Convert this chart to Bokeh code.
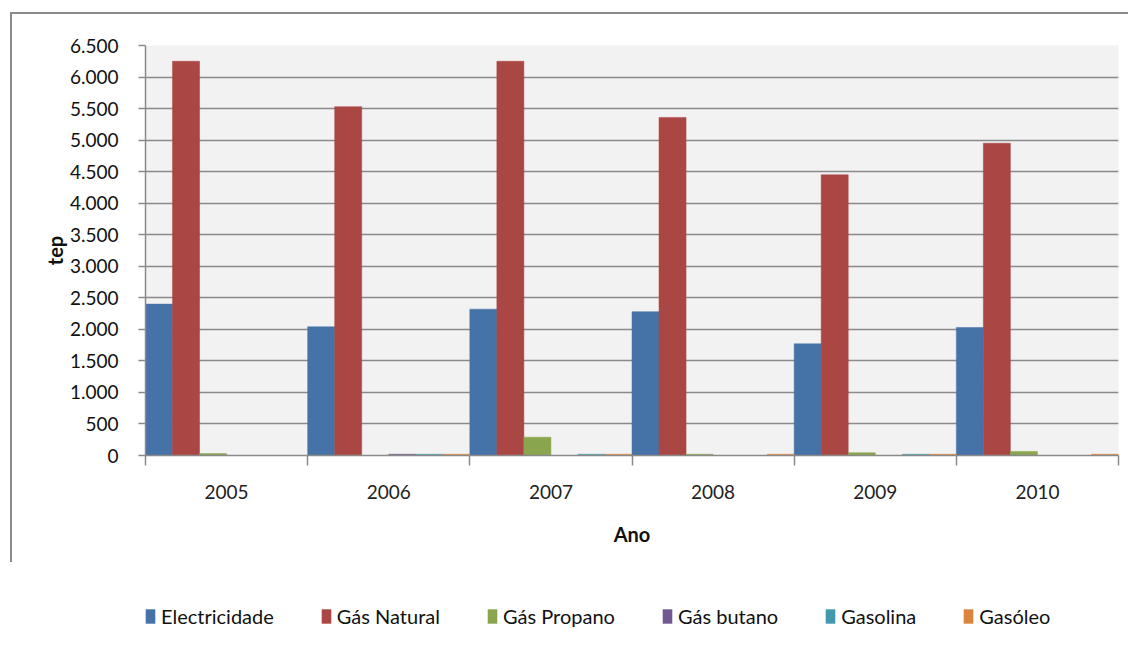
from bokeh.plotting import figure
from bokeh.layouts import column
from bokeh.models import ColumnDataSource, FixedTicker, Legend, LegendItem
from bokeh.transform import dodge
from bokeh.embed import file_html
from bokeh.resources import INLINE

years = [2005, 2006, 2007, 2008, 2009, 2010]
series = ["Electricidade", "Gás Natural", "Gás Propano", "Gás butano", "Gasolina", "Gasóleo"]
electricidade = [2400, 2040, 2320, 2280, 1770, 2030]
gas_natural = [6250, 5530, 6250, 5360, 4450, 4950]
gas_propano = [30, 0, 290, 20, 45, 65]
gas_butano = [0, 20, 0, 0, 0, 0]
gasolina = [0, 20, 20, 0, 20, 0]
gasoleo = [0, 20, 20, 20, 20, 20]
y_ticks = [0, 500, 1000, 1500, 2000, 2500, 3000, 3500, 4000, 4500, 5000, 5500, 6000, 6500]
y_tick_labels = ["0", "500", "1.000", "1.500", "2.000", "2.500", "3.000", "3.500",
                 "4.000", "4.500", "5.000", "5.500", "6.000", "6.500"]
colors = ["#4572A7", "#AA4643", "#89A54E", "#71588F", "#4198AF", "#DB843D"]

FONT = "Lato"
GRID = "#8a8a8a"

values = [electricidade, gas_natural, gas_propano, gas_butano, gasolina, gasoleo]
data = {"year": years}
for i, v in enumerate(values):
    data["s%d" % i] = v
source = ColumnDataSource(data)

p = figure(width=1128, height=590, output_backend="svg", toolbar_location=None,
           x_range=(2004.5, 2010.5), y_range=(0, 6500),
           min_border_left=145, min_border_right=10, min_border_top=45, min_border_bottom=135)
p.background_fill_color = "#f2f2f2"
p.border_fill_color = None
p.outline_line_color = None
p.styles = {
    "background-color": "white",
    "background-image": "linear-gradient(#8a8a8a, #8a8a8a), linear-gradient(#8a8a8a, #8a8a8a)",
    "background-size": "1118px 2px, 2px 550px",
    "background-position": "10px 12px, 10px 12px",
    "background-repeat": "no-repeat",
}

n = len(series)
w = 1.0 / n
for i, name in enumerate(series):
    p.vbar(x=dodge("year", (i - (n - 1) / 2) * w, range=p.x_range), top="s%d" % i,
           width=w, source=source, fill_color=colors[i], line_color=colors[i], line_width=0.5)

# x axis
p.xaxis.ticker = FixedTicker(ticks=years, minor_ticks=[y - 0.5 for y in years] + [years[-1] + 0.5])
p.xaxis.major_tick_out = 0
p.xaxis.major_tick_in = 0
p.xaxis.minor_tick_out = 10
p.xaxis.minor_tick_in = 0
p.xaxis.minor_tick_line_color = GRID
p.xaxis.minor_tick_line_width = 1.5
p.xaxis.axis_line_color = GRID
p.xaxis.axis_line_width = 1.5
p.xaxis.major_label_standoff = 19
p.xaxis.major_label_text_font = FONT
p.xaxis.major_label_text_font_size = "19px"
p.xaxis.major_label_text_color = "#222222"
p.xaxis.axis_label = "Ano"
p.xaxis.axis_label_text_font = FONT
p.xaxis.axis_label_text_font_size = "20px"
p.xaxis.axis_label_text_font_style = "bold"
p.xaxis.axis_label_text_color = "#111111"
p.xaxis.axis_label_standoff = 20
p.xgrid.grid_line_color = None

# y axis
p.yaxis.ticker = FixedTicker(ticks=y_ticks)
p.yaxis.major_label_overrides = {t: l for t, l in zip(y_ticks, y_tick_labels)}
p.yaxis.major_tick_out = 7
p.yaxis.major_tick_in = 0
p.yaxis.minor_tick_line_color = None
p.yaxis.major_tick_line_color = GRID
p.yaxis.major_tick_line_width = 1.5
p.yaxis.axis_line_color = GRID
p.yaxis.axis_line_width = 1.5
p.yaxis.major_label_standoff = 20
p.yaxis.major_label_text_font = FONT
p.yaxis.major_label_text_font_size = "19px"
p.yaxis.major_label_text_color = "#111111"
p.yaxis.axis_label = "tep"
p.yaxis.axis_label_text_font = FONT
p.yaxis.axis_label_text_font_size = "20px"
p.yaxis.axis_label_text_font_style = "bold"
p.yaxis.axis_label_text_color = "#111111"
p.yaxis.axis_label_standoff = 0
p.ygrid.grid_line_color = GRID
p.ygrid.grid_line_width = 1.5

# legend strip: same series, drawn below its (empty) view so only the swatches show
lf = figure(width=1128, height=56, output_backend="svg", toolbar_location=None,
            x_range=(2004.5, 2010.5), y_range=(100000, 200000), min_border=0,
            x_axis_location=None, y_axis_location=None)
lf.outline_line_color = None
lf.grid.grid_line_color = None
lf.background_fill_color = "white"
lf.border_fill_color = "white"
leg_renderers = []
for i, name in enumerate(series):
    r = lf.vbar(x=dodge("year", (i - (n - 1) / 2) * w, range=lf.x_range), top="s%d" % i,
                width=w, source=source, fill_color=colors[i], line_color=None)
    leg_renderers.append(r)

legend = Legend(items=[LegendItem(label=s, renderers=[r]) for s, r in zip(series, leg_renderers)],
                orientation="horizontal", location=(-1, 18),
                spacing=46, glyph_width=12, glyph_height=18, label_standoff=5,
                padding=0, margin=0, background_fill_alpha=0, border_line_color=None,
                label_text_font=FONT, label_text_font_size="20px", label_text_color="#111111")
lf.add_layout(legend, "center")

layout = column(p, lf, spacing=0)
open("out.html", "w").write(file_html(layout, INLINE))
